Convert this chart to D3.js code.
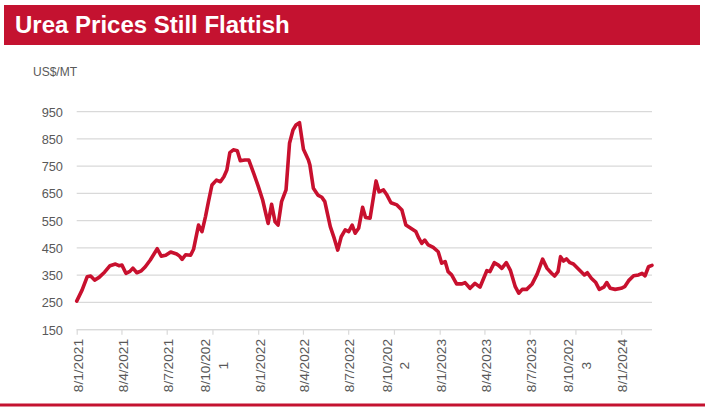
<!DOCTYPE html>
<html>
<head>
<meta charset="utf-8">
<script src="https://cdn.jsdelivr.net/npm/d3@7"></script>
<style>
  html, body { margin: 0; padding: 0; background: #fff; }
  svg { display: block; font-family: "Liberation Sans", Arial, sans-serif; }
</style>
</head>
<body>
<svg id="chart" width="705" height="407"></svg>
<script>
const title = "Urea Prices Still Flattish";
const unitLabel = "US$/MT";

const dates = [
  "2021-01-08","2021-01-19","2021-01-29","2021-02-05","2021-02-13","2021-02-22","2021-03-05","2021-03-16",
  "2021-03-27","2021-04-03","2021-04-09","2021-04-17","2021-04-25","2021-05-01","2021-05-09","2021-05-18",
  "2021-05-26","2021-06-05","2021-06-19","2021-06-27","2021-07-06","2021-07-16","2021-07-28","2021-08-03",
  "2021-08-08","2021-08-15","2021-08-25","2021-08-31","2021-09-10","2021-09-17","2021-09-24","2021-09-30",
  "2021-10-07","2021-10-16","2021-10-24","2021-10-31","2021-11-06","2021-11-12","2021-11-19","2021-11-27",
  "2021-12-03","2021-12-12","2021-12-20","2021-12-30","2022-01-08","2022-01-17","2022-01-24","2022-01-28",
  "2022-02-04","2022-02-11","2022-02-17","2022-02-24","2022-03-05","2022-03-12","2022-03-19","2022-03-25",
  "2022-04-01","2022-04-09","2022-04-19","2022-04-22","2022-04-29","2022-05-08","2022-05-16","2022-05-22",
  "2022-06-02","2022-06-10","2022-06-17","2022-06-24","2022-07-02","2022-07-09","2022-07-16","2022-07-22",
  "2022-07-29","2022-08-06","2022-08-12","2022-08-21","2022-09-02","2022-09-08","2022-09-17","2022-09-24",
  "2022-10-02","2022-10-14","2022-10-24","2022-11-01","2022-11-11","2022-11-21","2022-11-27","2022-12-03",
  "2022-12-09","2022-12-16","2022-12-26","2023-01-05","2023-01-12","2023-01-19","2023-01-25","2023-02-01",
  "2023-02-11","2023-02-22","2023-02-28","2023-03-10","2023-03-20","2023-03-30","2023-04-13","2023-04-19",
  "2023-04-28","2023-05-06","2023-05-13","2023-05-22","2023-05-30","2023-06-09","2023-06-16","2023-06-23",
  "2023-07-02","2023-07-13","2023-07-23","2023-08-03","2023-08-12","2023-08-21","2023-08-27","2023-09-03",
  "2023-09-08","2023-09-14","2023-09-20","2023-09-27","2023-10-04","2023-10-16","2023-10-26","2023-11-01",
  "2023-11-09","2023-11-18","2023-11-25","2023-12-04","2023-12-10","2023-12-17","2023-12-27","2024-01-08",
  "2024-01-15","2024-01-23","2024-02-02","2024-02-12","2024-02-19","2024-02-25","2024-03-03","2024-03-10"
];

const prices = [
  255,296,344,347,332,342,361,385,
  391,385,387,357,364,376,359,366,
  381,406,447,420,423,435,428,420,
  408,425,423,445,534,510,565,620,
  681,699,693,711,736,800,810,807,
  770,773,773,724,677,626,571,540,
  610,546,534,620,663,834,883,901,
  910,812,773,754,669,644,636,620,
  528,485,442,491,516,510,534,504,
  522,599,562,559,696,656,663,644,
  616,608,589,534,522,510,486,467,
  479,461,452,436,394,400,363,351,
  318,318,323,302,320,306,367,363,
  396,387,375,396,369,308,284,298,
  298,318,354,409,375,357,347,363,
  418,402,410,396,391,369,351,359,
  339,323,298,306,323,302,298,302,
  308,330,348,351,357,348,381,386
];

const yTicks = [150, 250, 350, 450, 550, 650, 750, 850, 950];
const xTickDates = [
  "2021-01-08","2021-04-08","2021-07-08","2021-10-08",
  "2022-01-08","2022-04-08","2022-07-08","2022-10-08",
  "2023-01-08","2023-04-08","2023-07-08","2023-10-08",
  "2024-01-08"
];
const xTickLabels = [
  ["8/1/2021"],["8/4/2021"],["8/7/2021"],["8/10/202","1"],
  ["8/1/2022"],["8/4/2022"],["8/7/2022"],["8/10/202","2"],
  ["8/1/2023"],["8/4/2023"],["8/7/2023"],["8/10/202","3"],
  ["8/1/2024"]
];

const parse = d3.utcParse("%Y-%m-%d");
const series = dates.map((d, i) => ({ date: parse(d), value: prices[i] }));

const svg = d3.select("#chart");
const red = "#C41230";
const gray = "#595959";
const gridColor = "#D9D9D9";

// title bar
svg.append("rect").attr("x", 4).attr("y", 5).attr("width", 696).attr("height", 40).attr("fill", red);
svg.append("text").attr("x", 15).attr("y", 33).attr("fill", "#fff")
  .attr("font-size", 24).attr("font-weight", "bold").text(title);

// unit label
svg.append("text").attr("x", 33).attr("y", 76).attr("fill", gray).attr("font-size", 12).text(unitLabel);

// bottom rule
svg.append("rect").attr("x", 0).attr("y", 403.5).attr("width", 705).attr("height", 3).attr("fill", red);

const x = d3.scaleUtc()
  .domain([parse("2021-01-08"), parse("2024-03-10")])
  .range([76.7, 652]);
const y = d3.scaleLinear().domain([150, 950]).range([329.7, 111.7]);

// gridlines
svg.append("g").selectAll("line").data(yTicks).join("line")
  .attr("x1", x.range()[0]).attr("x2", x.range()[1])
  .attr("y1", d => y(d)).attr("y2", d => y(d))
  .attr("stroke", gridColor).attr("stroke-width", 1.2);

// y axis labels
const yAxis = d3.axisLeft(y).tickValues(yTicks).tickSize(0).tickPadding(0);
const gy = svg.append("g").attr("transform", "translate(63,0)").call(yAxis);
gy.select(".domain").remove();
gy.selectAll("text").attr("fill", gray).attr("font-size", 12.8)
  .attr("font-family", "'Liberation Sans', Arial, sans-serif").attr("dy", "0.35em");

// x axis
const xTickVals = xTickDates.map(parse);
const xAxis = d3.axisBottom(x).tickValues(xTickVals).tickSize(5).tickFormat("");
const gx = svg.append("g").attr("transform", `translate(0,${y(150)})`).call(xAxis);
gx.select(".domain").attr("stroke", gridColor).attr("stroke-width", 1.2)
  .attr("d", `M${x.range()[0]},0H${x.range()[1]}`);
gx.selectAll(".tick line").attr("stroke", gridColor).attr("stroke-width", 1.2);

// rotated tick labels
const labelG = svg.append("g");
xTickVals.forEach((d, i) => {
  const lines = xTickLabels[i];
  const tx = x(d);
  const g = labelG.append("g").attr("transform", `translate(${tx},339) rotate(-90) scale(1.14,1)`);
  const t = g.append("text").attr("fill", gray).attr("font-size", 12)
    .attr("font-family", "'Liberation Sans', Arial, sans-serif");
  const first = t.append("tspan").text(lines[0]);
  const L = first.node().getComputedTextLength();
  if (lines.length === 1) {
    t.attr("text-anchor", "end").attr("y", 6.3);
  } else {
    t.attr("text-anchor", "middle");
    first.attr("x", -L / 2).attr("y", -2.3);
    t.append("tspan").attr("x", -L / 2).attr("y", 15.3).text(lines[1]);
  }
});

// line
const line = d3.line().x(d => x(d.date)).y(d => y(d.value));
svg.append("path").datum(series)
  .attr("d", line).attr("fill", "none")
  .attr("stroke", "#C8102E").attr("stroke-width", 3.6)
  .attr("stroke-linejoin", "round").attr("stroke-linecap", "round");
</script>
</body>
</html>
